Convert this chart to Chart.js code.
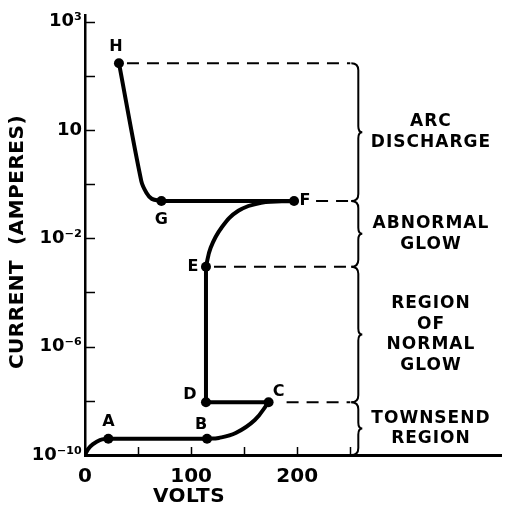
<!DOCTYPE html>
<html><head><meta charset="utf-8">
<script src="https://cdn.jsdelivr.net/npm/chart.js@4/dist/chart.umd.min.js"></script>
<style>html,body{margin:0;padding:0;background:#fff;overflow:hidden}#wrap{width:506px;height:514px}</style>
</head><body><div id="wrap"><canvas id="c" width="506" height="514"></canvas></div>
<script>
// ---- DATA ----
// y axis: schematic; labelled ticks are evenly spaced but represent these exponents
const yTickExps = [-10, -6, -2, 1, 3];
const yTickLabels = ['10⁻¹⁰', '10⁻⁶', '10⁻²', '10', '10³'];
const xTickLabels = [0, 100, 200];
const xTickMarks = [0, 50, 100, 150, 200, 250];

// named points (volts, log10 amperes)
const pointNames = ['A', 'B', 'C', 'D', 'E', 'F', 'G', 'H'];
const pointVolts = [22, 115, 173, 114, 114, 197, 72, 32];
const pointExp   = [-9.4, -9.4, -8.05, -8.05, -3.05, -0.97, -0.97, 2.23];

// curved parts of the characteristic
const originToAVolts = [0, 3, 7.5, 14, 22];
const originToAExp   = [-10, -9.78, -9.6, -9.45, -9.4];
const bToCVolts = [115, 126, 142, 160, 173];
const bToCExp   = [-9.4, -9.37, -9.19, -8.71, -8.05];
const eToFVolts = [114, 118.4, 128.6, 144.5, 166, 197];
const eToFExp   = [-3.05, -2.35, -1.71, -1.24, -1.02, -0.97];
const gToHVolts = [72, 63, 58, 53, 32];
const gToHExp   = [-0.97, -0.91, -0.745, -0.41, 2.23];

// regions (boundaries given by point levels, bottom = 10^-10)
const regionNames = [['ARC', 'DISCHARGE'], ['ABNORMAL', 'GLOW'], ['REGION', 'OF', 'NORMAL', 'GLOW'], ['TOWNSEND', 'REGION']];
const regionBoundaryExp = [2.23, -0.97, -3.05, -8.05, -10];
const dashedFromVolts = [32, 197, 114, 173];
const bracketVolts = 250;
const regionLabelVolts = 326;

// ---- mapping of exponent onto the schematic axis (tick units) ----
function toUnit(e) {
  for (let i = 0; i < yTickExps.length - 1; i++) {
    if (e <= yTickExps[i + 1] || i === yTickExps.length - 2) {
      return i + (e - yTickExps[i]) / (yTickExps[i + 1] - yTickExps[i]);
    }
  }
}
function pts(vs, es) { return vs.map((v, i) => ({ x: v, y: toUnit(es[i]) })); }
function pick(a, b) { return pts([pointVolts[a], pointVolts[b]], [pointExp[a], pointExp[b]]); }

const lineStyle = { borderColor: '#000', borderWidth: 4, pointRadius: 0, showLine: true, fill: false, borderCapStyle: 'round', borderJoinStyle: 'round' };
const datasets = [
  Object.assign({ data: pts(originToAVolts, originToAExp), tension: 0.4 }, lineStyle),
  Object.assign({ data: pick(0, 1), tension: 0 }, lineStyle),
  Object.assign({ data: pts(bToCVolts, bToCExp), tension: 0.4 }, lineStyle),
  Object.assign({ data: pick(2, 3), tension: 0 }, lineStyle),
  Object.assign({ data: pick(3, 4), tension: 0 }, lineStyle),
  Object.assign({ data: pts(eToFVolts, eToFExp), tension: 0.4 }, lineStyle),
  Object.assign({ data: pick(5, 6), tension: 0 }, lineStyle),
  Object.assign({ data: pts(gToHVolts, gToHExp), tension: 0.3 }, lineStyle),
  { data: pts(pointVolts, pointExp), showLine: false, pointRadius: 5, pointBackgroundColor: '#000', pointBorderColor: '#000', pointBorderWidth: 0 }
];

const FONT = 'DejaVu Sans';
const labelOffsets = { A: [0, -17], B: [-6, -14], C: [10, -10], D: [-16, -7], E: [-13, 0], F: [11, 0], G: [0, 19], H: [-3, -16] };
const dashStartGap = [8, 22, 8, 18];

const decor = {
  id: 'decor',
  afterDraw(chart) {
    const ctx = chart.ctx, xs = chart.scales.x, ys = chart.scales.y;
    const ca = chart.chartArea;
    ctx.save();
    ctx.strokeStyle = '#000'; ctx.fillStyle = '#000';
    // inward tick marks
    ctx.lineWidth = 1.5;
    ys.ticks.forEach(t => {
      const v = t.value;
      if (v <= 0) return;
      const y = Math.round(ys.getPixelForValue(v)) + 0.5;
      ctx.beginPath(); ctx.moveTo(ca.left, y); ctx.lineTo(ca.left + 10, y); ctx.stroke();
    });
    xTickMarks.forEach(v => {
      if (v <= 0) return;
      const x = Math.round(xs.getPixelForValue(v)) + 0.5;
      ctx.beginPath(); ctx.moveTo(x, ca.bottom); ctx.lineTo(x, ca.bottom - 8); ctx.stroke();
    });
    // dashed level lines
    const xEnd = xs.getPixelForValue(bracketVolts);
    ctx.lineWidth = 2; ctx.setLineDash([12, 8]);
    dashedFromVolts.forEach((v, i) => {
      const y = ys.getPixelForValue(toUnit(regionBoundaryExp[i]));
      ctx.beginPath(); ctx.moveTo(xs.getPixelForValue(v) + dashStartGap[i], y); ctx.lineTo(xEnd, y); ctx.stroke();
    });
    ctx.setLineDash([]);
    // braces
    ctx.lineWidth = 2;
    const xS = xEnd + 1, xB = xEnd + 8, xT = xEnd + 12;
    for (let i = 0; i < regionNames.length; i++) {
      const yT = ys.getPixelForValue(toUnit(regionBoundaryExp[i]));
      const yB = ys.getPixelForValue(toUnit(regionBoundaryExp[i + 1]));
      const ym = (yT + yB) / 2;
      ctx.beginPath();
      ctx.moveTo(xS, yT);
      ctx.quadraticCurveTo(xB, yT, xB, yT + 7);
      ctx.lineTo(xB, ym - 6);
      ctx.quadraticCurveTo(xB, ym, xT, ym);
      ctx.quadraticCurveTo(xB, ym, xB, ym + 6);
      ctx.lineTo(xB, yB - 7);
      ctx.quadraticCurveTo(xB, yB, xS, yB);
      ctx.stroke();
      // region label
      const lines = regionNames[i];
      const lh = 20.5;
      const cx = xs.getPixelForValue(regionLabelVolts);
      ctx.font = 'bold 17px "' + FONT + '"';
      ctx.letterSpacing = '1px';
      ctx.textAlign = 'center'; ctx.textBaseline = 'middle';
      lines.forEach((s, k) => {
        ctx.fillText(s, cx, ym + (k - (lines.length - 1) / 2) * lh);
      });
    }
    // point letters
    ctx.letterSpacing = '0px';
    ctx.font = 'bold 16px "' + FONT + '"';
    ctx.textAlign = 'center'; ctx.textBaseline = 'middle';
    pointNames.forEach((n, i) => {
      const x = xs.getPixelForValue(pointVolts[i]), y = ys.getPixelForValue(toUnit(pointExp[i]));
      const o = labelOffsets[n];
      ctx.fillText(n, x + o[0], y + o[1]);
    });
    // axis titles
    ctx.font = 'bold 20px "' + FONT + '"';
    ctx.letterSpacing = '0.5px';
    ctx.fillText('VOLTS', xs.getPixelForValue(98), 497);
    ctx.save();
    ctx.translate(18, 242); ctx.rotate(-Math.PI / 2);
    ctx.letterSpacing = '0.5px';
    ctx.fillText('CURRENT  (AMPERES)', 0, 0);
    ctx.restore();
    ctx.restore();
  }
};

new Chart(document.getElementById('c'), {
  type: 'scatter',
  data: { datasets },
  options: {
    responsive: false, animation: false, devicePixelRatio: 1,
    layout: { padding: { top: 15, right: 0, left: 0, bottom: 0 } },
    plugins: { legend: { display: false }, tooltip: { enabled: false } },
    scales: {
      x: {
        type: 'linear', min: 0, max: 392,
        grid: { display: false, drawTicks: false },
        border: { display: true, color: '#000', width: 3 },
        ticks: {
          autoSkip: false, maxRotation: 0, padding: 10, color: '#000',
          font: { family: FONT, size: 20, weight: 'bold' },
          callback: v => xTickLabels.includes(v) ? String(v) : ''
        },
        afterBuildTicks: s => { s.ticks = xTickLabels.map(v => ({ value: v })); },
        afterFit: s => { s.height = 59; s.paddingLeft = 0; s.paddingRight = 0; }
      },
      y: {
        type: 'linear', min: 0, max: 4.06,
        grid: { display: false, drawTicks: false },
        border: { display: true, color: '#000', width: 2.5 },
        ticks: {
          autoSkip: false, padding: 3, color: '#000',
          font: { family: FONT, size: 18, weight: 'bold' },
          callback: v => Number.isInteger(v) && v >= 0 && v < yTickLabels.length ? yTickLabels[v] : ''
        },
        afterBuildTicks: s => { s.ticks = [0, 0.5, 1, 1.5, 2, 2.5, 3, 3.5, 4].map(v => ({ value: v })); },
        afterFit: s => { s.width = 85; s.paddingTop = 0; s.paddingBottom = 0; }
      }
    }
  },
  plugins: [decor]
});
</script></body></html>
